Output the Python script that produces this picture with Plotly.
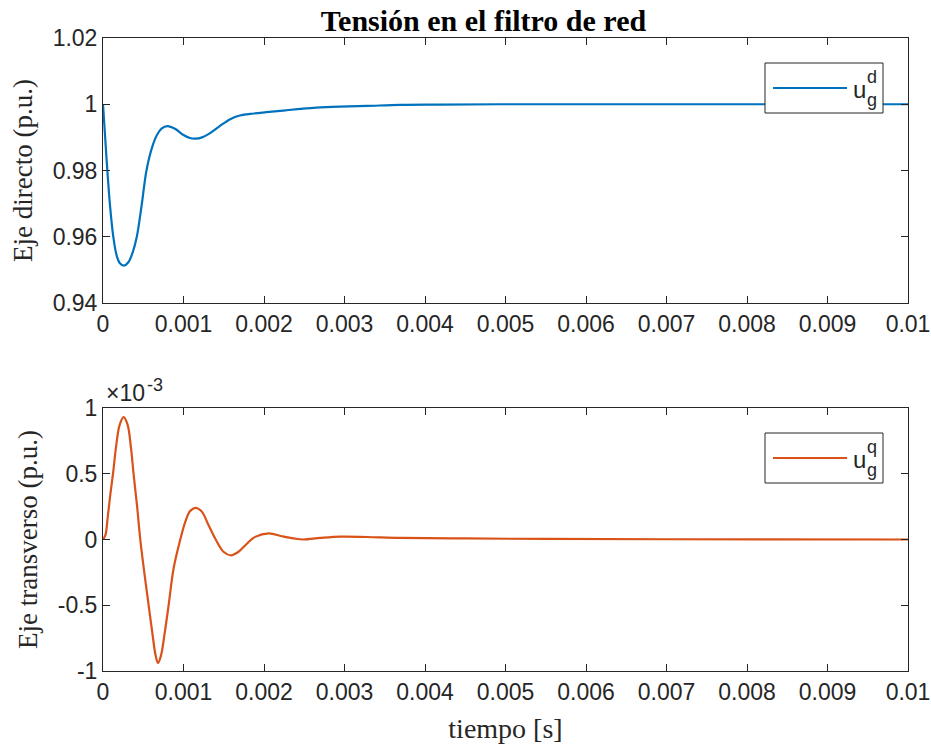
import plotly.graph_objects as go

# Time samples (s) and d-axis grid voltage (p.u.)
t_d = [0, 0.000025, 0.000054, 0.000087, 0.000128, 0.00017, 0.00021, 0.00026,
       0.000315, 0.000369, 0.00042, 0.00048, 0.00054, 0.000606, 0.00067, 0.00073,
       0.0008, 0.0009, 0.001, 0.00108, 0.00115, 0.00123, 0.00133, 0.00145, 0.00158,
       0.0017, 0.00187, 0.00203, 0.00224, 0.00245, 0.00265, 0.00294, 0.00328,
       0.00369, 0.00419, 0.005, 0.006, 0.008, 0.01]
u_d = [1.0, 0.9907, 0.98, 0.9695, 0.96, 0.9543, 0.952, 0.9513,
       0.9523, 0.9553, 0.96, 0.9695, 0.98, 0.9867, 0.9907, 0.9927,
       0.9934, 0.9925, 0.9907, 0.9898, 0.9896, 0.9900, 0.9913, 0.9934, 0.9955,
       0.9966, 0.9972, 0.9976, 0.9981, 0.9986, 0.9990, 0.9993, 0.9995,
       0.9998, 0.9999, 1.0, 1.0, 1.0, 1.0]

# Time samples (s) and q-axis grid voltage (x1e-3 p.u.)
t_q = [0, 0.00003, 0.000057, 0.00009, 0.000124, 0.000165, 0.000207, 0.000256,
       0.000306, 0.000348, 0.00038, 0.000422, 0.000463, 0.000513, 0.000567,
       0.000617, 0.000654, 0.000683, 0.00072, 0.000762, 0.000815, 0.000877,
       0.00096, 0.00102, 0.00108, 0.001155, 0.00123, 0.00131, 0.0014, 0.0015,
       0.00159, 0.00168, 0.00179, 0.00189, 0.00206, 0.00222, 0.00237, 0.00249,
       0.0027, 0.00295, 0.00328, 0.00369, 0.0045, 0.0055, 0.007, 0.01]
u_q = [0, 0.033, 0.16, 0.338, 0.498, 0.72, 0.872, 0.931,
       0.872, 0.695, 0.498, 0.262, 0.0, -0.25, -0.5,
       -0.73, -0.883, -0.939, -0.883, -0.73, -0.5, -0.22,
       0.0, 0.13, 0.215, 0.241, 0.21, 0.11, 0.0, -0.095,
       -0.12, -0.095, -0.03, 0.02, 0.046, 0.025, 0.008, 0.0,
       0.012, 0.022, 0.019, 0.012, 0.008, 0.004, 0.002, 0.0]

x_ticks = [0, 0.001, 0.002, 0.003, 0.004, 0.005, 0.006, 0.007, 0.008, 0.009, 0.01]
x_labels = ["0", "0.001", "0.002", "0.003", "0.004", "0.005", "0.006", "0.007",
            "0.008", "0.009", "0.01"]
yd_ticks = [0.94, 0.96, 0.98, 1.0, 1.02]
yd_labels = ["0.94", "0.96", "0.98", "1", "1.02"]
yq_ticks = [-1, -0.5, 0, 0.5, 1]
yq_labels = ["-1", "-0.5", "0", "0.5", "1"]

BLUE = "#0072BD"
ORANGE = "#D95319"
AX = "#262626"
SANS = "Liberation Sans, Arial, sans-serif"
SERIF = "Liberation Serif, Times New Roman, serif"

# plot-area geometry in pixels
L, R, T, B = 103, 908, 38, 671
W, H = 931, 749

fig = go.Figure()
fig.add_trace(go.Scatter(x=t_d, y=u_d, mode="lines", xaxis="x", yaxis="y",
                         line=dict(color=BLUE, width=2.2, shape="spline", smoothing=1.0),
                         showlegend=False))
fig.add_trace(go.Scatter(x=t_q, y=u_q, mode="lines", xaxis="x2", yaxis="y2",
                         line=dict(color=ORANGE, width=2.2, shape="spline", smoothing=1.0),
                         showlegend=False))

axis_common = dict(showline=True, linecolor=AX, linewidth=1, mirror="ticks",
                   ticks="inside", ticklen=7, tickcolor=AX, tickwidth=1,
                   showgrid=False, zeroline=False, automargin=False,
                   tickfont=dict(family=SANS, size=23, color=AX))

fig.update_layout(
    width=W, height=H,
    margin=dict(l=L, r=W - R, t=T, b=H - B),
    paper_bgcolor="white", plot_bgcolor="white",
    title=dict(text="<b>Tensión en el filtro de red</b>", x=483.5 / W, xanchor="center",
               y=1 - 20 / H, yanchor="middle",
               font=dict(family=SERIF, size=30, color="black")),
    xaxis=dict(domain=[0, 1], range=[0, 0.01], anchor="y",
               tickvals=x_ticks, ticktext=x_labels, **axis_common),
    yaxis=dict(domain=[(B - 303) / (B - T), 1], range=[0.94, 1.02], anchor="x",
               tickvals=yd_ticks, ticktext=yd_labels,
               title=dict(text="Eje directo (p.u.)", standoff=12,
                          font=dict(family=SERIF, size=27, color=AX)),
               **axis_common),
    xaxis2=dict(domain=[0, 1], range=[0, 0.01], anchor="y2",
                tickvals=x_ticks, ticktext=x_labels,
                title=dict(text="tiempo [s]", standoff=14,
                           font=dict(family=SERIF, size=28, color=AX)),
                **axis_common),
    yaxis2=dict(domain=[0, (B - 408) / (B - T)], range=[-1, 1], anchor="x2",
                tickvals=yq_ticks, ticktext=yq_labels,
                title=dict(text="Eje transverso (p.u.)", standoff=12,
                           font=dict(family=SERIF, size=27, color=AX)),
                **axis_common),
)


def px(v):
    return (v - L) / (R - L)


def py(v):
    return (B - v) / (B - T)


# Exponent marker for the lower axis
fig.add_annotation(xref="paper", yref="paper", x=px(104), y=py(393), xanchor="left",
                   yanchor="middle", showarrow=False, text="×10",
                   font=dict(family=SANS, size=23, color=AX))
fig.add_annotation(xref="paper", yref="paper", x=px(145), y=py(385), xanchor="left",
                   yanchor="middle", showarrow=False, text="-3",
                   font=dict(family=SANS, size=18, color=AX))


def legend_box(y_mid, color, sup):
    """Boxed legend entry with stacked super/subscript: u^sup_g."""
    top, bot = y_mid - 25, y_mid + 25
    fig.add_shape(type="rect", xref="paper", yref="paper",
                  x0=px(765), x1=px(883), y0=py(bot), y1=py(top),
                  line=dict(color=AX, width=1), fillcolor="white", layer="above")
    fig.add_shape(type="line", xref="paper", yref="paper",
                  x0=px(773), x1=px(847), y0=py(y_mid), y1=py(y_mid),
                  line=dict(color=color, width=2.2), layer="above")
    fig.add_annotation(xref="paper", yref="paper", x=px(851), y=py(y_mid + 1),
                       xanchor="left", yanchor="middle", showarrow=False, text="u",
                       font=dict(family=SANS, size=24, color=AX))
    fig.add_annotation(xref="paper", yref="paper", x=px(865), y=py(y_mid - 11),
                       xanchor="left", yanchor="middle", showarrow=False, text=sup,
                       font=dict(family=SANS, size=18, color=AX))
    fig.add_annotation(xref="paper", yref="paper", x=px(865), y=py(y_mid + 12),
                       xanchor="left", yanchor="middle", showarrow=False, text="g",
                       font=dict(family=SANS, size=18, color=AX))


legend_box(88, BLUE, "d")
legend_box(458, ORANGE, "q")

fig.write_html("out.html")
